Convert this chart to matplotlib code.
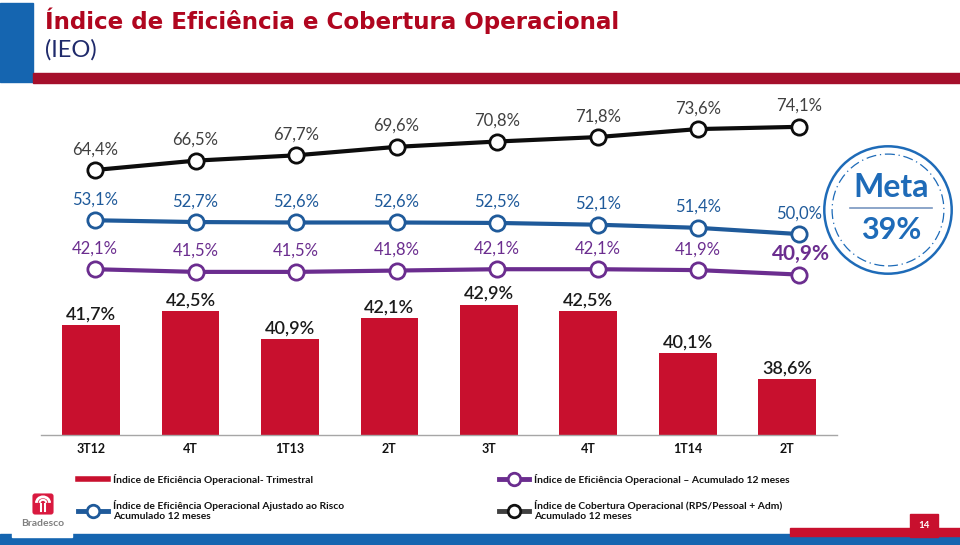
import matplotlib
matplotlib.use("Agg")
import matplotlib.pyplot as plt
from matplotlib.lines import Line2D
from matplotlib.patches import Rectangle, Circle, FancyBboxPatch, Arc

plt.rcParams['font.family'] = ['Lato', 'DejaVu Sans']

# ---------------- data ----------------
categories = ["3T12", "4T", "1T13", "2T", "3T", "4T", "1T14", "2T"]
ieo_trimestral = [41.7, 42.5, 40.9, 42.1, 42.9, 42.5, 40.1, 38.6]
ieo_acumulado = [42.1, 41.5, 41.5, 41.8, 42.1, 42.1, 41.9, 40.9]
ieo_ajustado_risco = [53.1, 52.7, 52.6, 52.6, 52.5, 52.1, 51.4, 50.0]
indice_cobertura = [64.4, 66.5, 67.7, 69.6, 70.8, 71.8, 73.6, 74.1]
meta_value = 39

title = "Índice de Eficiência e Cobertura Operacional"
subtitle = "(IEO)"
legend_labels = [
    "Índice de Eficiência Operacional- Trimestral",
    "Índice de Eficiência Operacional Ajustado ao Risco\nAcumulado 12 meses",
    "Índice de Eficiência Operacional – Acumulado 12 meses",
    "Índice de Cobertura Operacional (RPS/Pessoal + Adm)\nAcumulado 12 meses",
]

# ---------------- style ----------------
RED = "#C8102E"
DARKRED = "#A50F2B"
BLUE_BAR = "#1565B0"
BLUE_LINE = "#1F5A9A"
PURPLE = "#6B2D8F"
BLACK_LINE = "#0D0D0D"
GRAY_TXT = "#404040"
META_BLUE = "#1E6BB8"

W, H = 960, 545
fig = plt.figure(figsize=(W / 100, H / 100), dpi=100)
fig.patch.set_facecolor("white")


def box(left, top, right, bottom):
    return [left / W, 1 - bottom / H, (right - left) / W, (bottom - top) / H]


def fx(x):
    return x / W


def fy(y):
    return 1 - y / H


def fmt(v):
    return f"{v:.1f}".replace(".", ",") + "%"


# ---------------- header ----------------
fig.add_artist(Rectangle((0, fy(82)), fx(33), (82 - 3) / H, color=BLUE_BAR,
                         transform=fig.transFigure, zorder=1))
fig.add_artist(Rectangle((fx(33), fy(83)), 1 - fx(33), 10 / H, color=DARKRED,
                         transform=fig.transFigure, zorder=1))
fig.text(fx(45), fy(21), title, color="#B0061F", fontsize=16.6,
         fontweight="bold", ha="left", va="center", family="DejaVu Sans")
fig.text(fx(45), fy(50), subtitle, color="#1F2A6B", fontsize=17,
         ha="left", va="center")

# ---------------- bars ----------------
x = list(range(len(categories)))
axb = fig.add_axes(box(41.25, 285, 837, 435))
axb.set_xlim(-0.5, len(categories) - 0.5)
axb.set_ylim(35.4, 35.4 + 150 / 17.4)
bars = axb.bar(x, ieo_trimestral, width=0.58, color=RED, zorder=2)
for xi, v in zip(x, ieo_trimestral):
    axb.annotate(fmt(v), (xi, v), xytext=(0, 2), textcoords="offset points",
                 ha="center", va="bottom", fontsize=13, color="#1A1A1A",
                 fontweight="semibold")
axb.set_xticks(x)
axb.set_xticklabels(categories, fontsize=9, fontweight="bold", color="#111111")
axb.tick_params(axis="x", length=0, pad=6)
axb.set_yticks([])
for s in ["top", "right", "left"]:
    axb.spines[s].set_visible(False)
axb.spines["bottom"].set_color("#A6A6A6")
axb.spines["bottom"].set_linewidth(1)
axb.patch.set_alpha(0)

# ---------------- lines ----------------
axl = fig.add_axes(box(44.75, 100, 849, 290))
axl.set_xlim(-0.5, len(categories) - 0.5)
axl.set_ylim(37.43, 80.13)
axl.axis("off")
series = [
    (indice_cobertura, BLACK_LINE, GRAY_TXT),
    (ieo_ajustado_risco, BLUE_LINE, BLUE_LINE),
    (ieo_acumulado, PURPLE, PURPLE),
]
for vals, lc, tc in series:
    axl.plot(x, vals, color=lc, lw=3, marker="o", markersize=11,
             markerfacecolor="white", markeredgecolor=lc, markeredgewidth=2,
             zorder=3)
    for i, (xi, v) in enumerate(zip(x, vals)):
        big = (vals is ieo_acumulado and i == len(vals) - 1)
        axl.annotate(fmt(v), (xi, v), xytext=(1.5 if big else 0, 15),
                     textcoords="offset points", ha="center", va="center",
                     fontsize=15 if big else 12, color=tc,
                     fontweight="bold" if big else "normal")

# ---------------- meta circle ----------------
axm = fig.add_axes(box(823, 145, 953, 275))
axm.set_xlim(-1, 1)
axm.set_ylim(-1, 1)
axm.set_aspect("equal")
axm.axis("off")
axm.add_patch(Circle((0, 0), 0.98, fill=False, ec=META_BLUE, lw=1.8))
axm.add_patch(Circle((0, 0), 0.86, fill=False, ec=META_BLUE, lw=0.9,
                     linestyle=(0, (8, 3, 1, 3))))
axm.text(0.05, 0.34, "Meta", color=META_BLUE, fontsize=23, fontweight="bold",
         ha="center", va="center")
axm.plot([-0.58, 0.68], [0.03, 0.03], color="#7896C0", lw=1.2)
axm.text(0.05, -0.31, f"{meta_value}%", color=META_BLUE, fontsize=22,
         fontweight="bold", ha="center", va="center")

# ---------------- legend ----------------
handles = [
    Line2D([], [], color=RED, lw=4),
    Line2D([], [], color=BLUE_LINE, lw=3.5, marker="o", markersize=9,
           markerfacecolor="white", markeredgecolor=BLUE_LINE, markeredgewidth=2),
    Line2D([], [], color=PURPLE, lw=3.5, marker="o", markersize=9,
           markerfacecolor="white", markeredgecolor=PURPLE, markeredgewidth=2),
    Line2D([], [], color="#404040", lw=3.5, marker="o", markersize=9,
           markerfacecolor="white", markeredgecolor="#111111", markeredgewidth=2),
]
leg = fig.legend(handles, legend_labels, ncol=2, loc="upper left",
                 bbox_to_anchor=(fx(78), fy(474)), frameon=False,
                 prop={"size": 7.4, "weight": "bold"}, handlelength=2.9,
                 handletextpad=0.5, columnspacing=15.1, labelspacing=1.45,
                 borderaxespad=0, borderpad=0)
for t in leg.get_texts():
    t.set_color("#111111")

# ---------------- footer ----------------
fig.add_artist(Rectangle((0, 0), 1, (545 - 534) / H, color=BLUE_BAR,
                         transform=fig.transFigure, zorder=1))
fig.add_artist(Rectangle((fx(12), fy(537)), fx(60), 52 / H, color="white",
                         transform=fig.transFigure, zorder=1.5))
fig.add_artist(Rectangle((fx(790), fy(536)), 1 - fx(790), 8 / H, color=RED,
                         transform=fig.transFigure, zorder=2))
fig.add_artist(Rectangle((fx(910), fy(537)), fx(28), 23 / H, color=RED,
                         transform=fig.transFigure, zorder=2))
fig.text(fx(924), fy(525), "14", color="white", fontsize=7, fontweight="bold",
         ha="center", va="center", zorder=3)

# logo
axlogo = fig.add_axes(box(32, 493, 54, 515))
axlogo.set_zorder(5)
axlogo.set_xlim(0, 1)
axlogo.set_ylim(0, 1)
axlogo.axis("off")
axlogo.add_patch(FancyBboxPatch((0.02, 0.02), 0.96, 0.96,
                                boxstyle="round,pad=0,rounding_size=0.12",
                                fc="#D9193F", ec="none"))
axlogo.add_patch(Arc((0.5, 0.55), 0.6, 0.55, theta1=0, theta2=180,
                     color="white", lw=2))
axlogo.add_patch(Arc((0.5, 0.55), 0.3, 0.28, theta1=0, theta2=180,
                     color="white", lw=1.5))
axlogo.plot([0.43, 0.43], [0.2, 0.5], color="white", lw=1.5)
axlogo.plot([0.57, 0.57], [0.2, 0.5], color="white", lw=1.5)
fig.text(fx(43), fy(524), "Bradesco", color="#808080", fontsize=7.5,
         fontweight="bold", ha="center", va="center", zorder=4)

fig.savefig("out.png", dpi=100, facecolor="white")
